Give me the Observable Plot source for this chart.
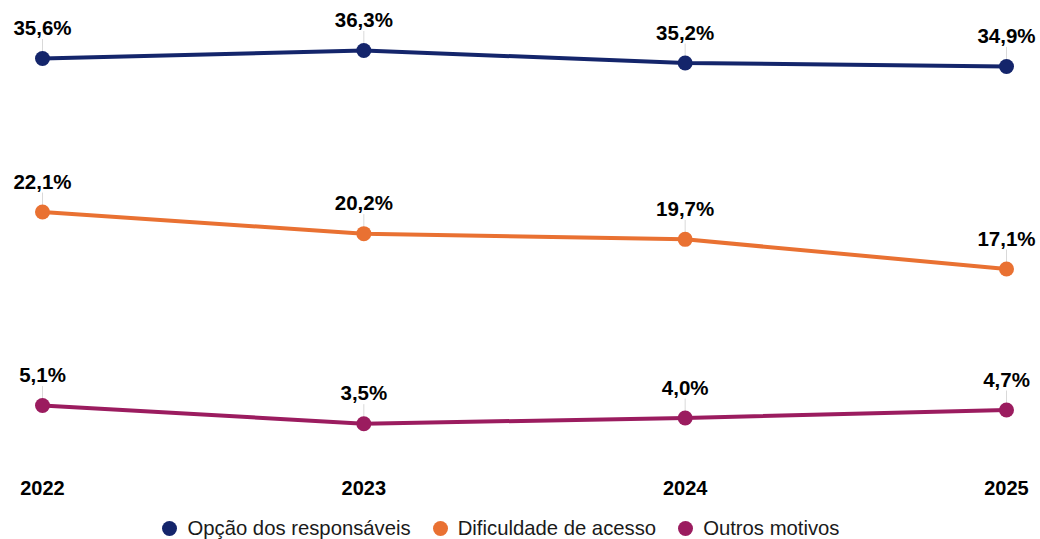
<!DOCTYPE html>
<html>
<head>
<meta charset="utf-8">
<script src="https://cdn.jsdelivr.net/npm/d3@7"></script>
<script src="https://cdn.jsdelivr.net/npm/@observablehq/plot@0.6"></script>
<style>
  html, body { margin: 0; padding: 0; background: #fff; }
  body { width: 1040px; height: 539px; overflow: hidden; font-family: "Liberation Sans", Arial, sans-serif; }
  #legend { display: flex; justify-content: center; align-items: center; height: 29px; margin-top: 4px; padding-right: 38px; font-size: 20.3px; color: #1a1a1a; }
  #legend .item { display: flex; align-items: center; margin: 0 11px; }
  #legend .sw { width: 15px; height: 15px; border-radius: 50%; margin-right: 10px; }
</style>
</head>
<body>
<div id="chart"></div>
<div id="legend"></div>
<script>
const years = [2022, 2023, 2024, 2025];
const seriesNames = ["Opção dos responsáveis", "Dificuldade de acesso", "Outros motivos"];
const opcao = [35.6, 36.3, 35.2, 34.9];
const dificuldade = [22.1, 20.2, 19.7, 17.1];
const outros = [5.1, 3.5, 4.0, 4.7];
const colors = ["#14256b", "#e97132", "#9b1c5f"];

const valuesBySeries = [opcao, dificuldade, outros];
const data = [];
seriesNames.forEach((s, si) => years.forEach((y, yi) => data.push({series: s, year: y, value: valuesBySeries[si][yi]})));
const fmt = v => v.toFixed(1).replace(".", ",") + "%";

const plot = Plot.plot({
  width: 1040,
  height: 510,
  marginLeft: 42,
  marginRight: 34,
  marginTop: 50,
  marginBottom: 47,
  style: {fontFamily: "'Liberation Sans', Arial, sans-serif", background: "#fff"},
  x: {domain: [2022, 2025], ticks: years, tickFormat: d => String(d), label: null},
  y: {domain: [0, 36.3], axis: null},
  color: {domain: seriesNames, range: colors},
  marks: [
    Plot.ruleX(data, {x: "year", y1: "value", y2: "value", insetTop: -19, stroke: "#d9d9d9", strokeWidth: 1}),
    Plot.line(data, {x: "year", y: "value", z: "series", stroke: "series", strokeWidth: 4}),
    Plot.dot(data, {x: "year", y: "value", fill: "series", r: 7.5}),
    Plot.text(data, {x: "year", y: "value", text: d => fmt(d.value), dy: -30, fontSize: 20.5, fontWeight: "bold", fill: "#000"}),
    Plot.axisX({ticks: years, tickFormat: d => String(d), tickSize: 0, tickPadding: 17, fontSize: 20, fontWeight: "bold", label: null, color: "#000"})
  ]
});
document.getElementById("chart").appendChild(plot);

const legend = document.getElementById("legend");
seriesNames.forEach((s, i) => {
  const item = document.createElement("div");
  item.className = "item";
  const sw = document.createElement("span");
  sw.className = "sw";
  sw.style.background = colors[i];
  const t = document.createElement("span");
  t.textContent = s;
  item.appendChild(sw);
  item.appendChild(t);
  legend.appendChild(item);
});
</script>
</body>
</html>
